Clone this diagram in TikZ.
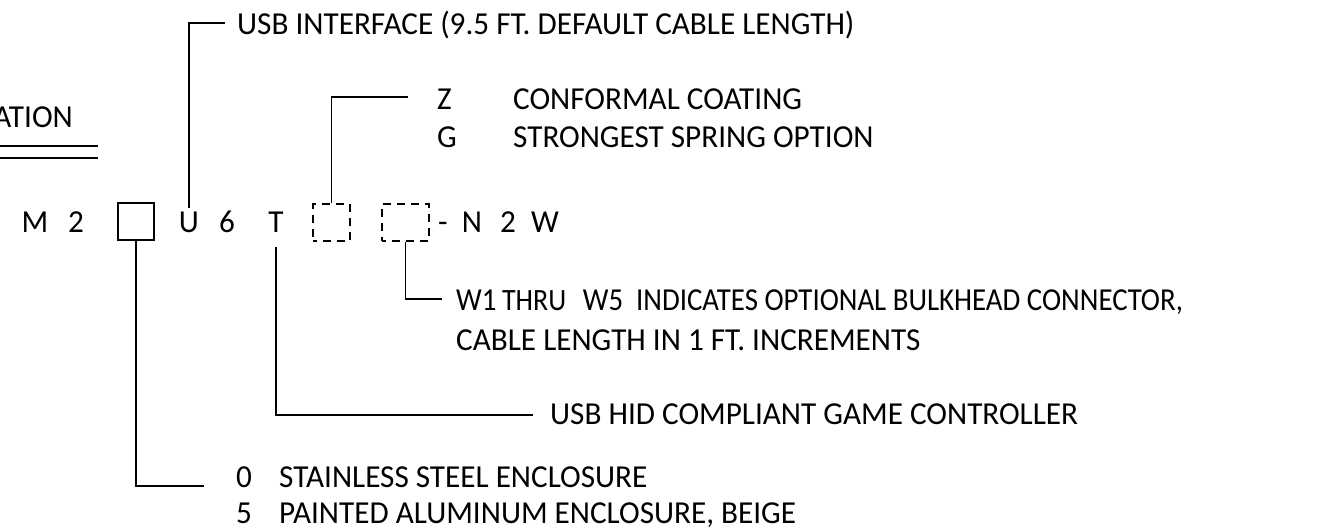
\documentclass[tikz,border=0pt]{standalone}
\usepackage{graphicx}
\usepackage{fontspec}
\setmainfont[FakeStretch=0.975]{Carlito}
\usetikzlibrary{positioning}

\begin{document}
\begin{tikzpicture}[x=1pt,y=-1pt]
		\tikzstyle{every node}+=[inner sep=0pt,font=\fontsize{32}{38}\selectfont]
		\tikzstyle{txt}=[anchor=base west]
		\tikzstyle{code}=[anchor=base]
		\tikzstyle{optbox}=[draw,line width=1.5pt,minimum height=37pt]
		\tikzstyle{lead}=[line width=1.5pt]
		\useasboundingbox (0,0) rectangle (1317,529);
		% heading, cut off at the left
		\node[anchor=base east] (head) at (73,128) {ATION};
		\draw[lead] (0,146) -- (98,146) (0,158) -- (98,158);
		% part number
		\node[code] (m)  at (35,233)  {M};
		\node[code] (m2) at (76,233)  {2};
		\node[optbox,minimum width=36pt] (encl) at (136,221.5) {};
		\node[code] (u)  at (189,233) {U};
		\node[code] (u6) at (227,233) {6};
		\node[code] (t)  at (276,233) {T};
		\node[optbox,dashed,dash pattern=on 8pt off 6pt,dash phase=4pt,minimum width=37pt] (opt) at (331.5,222.5) {};
		\node[optbox,dashed,dash pattern=on 8pt off 6pt,dash phase=4pt,minimum width=47pt] (cab) at (405.5,222.5) {};
		\node[code] (dash) at (443,233) {-};
		\node[code] (n)  at (472,233) {N};
		\node[code] (n2) at (508,233) {2};
		\node[code] (w)  at (545,233) {W};
		% descriptions
		\node[txt] (usb) at (237,35) {USB INTERFACE (9.5 FT. DEFAULT CABLE LENGTH)};
		\node[txt] (z) at (437,110) {Z};
		\node[txt] (zc) at (513,110) {CONFORMAL COATING};
		\node[txt] (g) at (437,148) {G};
		\node[txt] (gs) at (513,148) {STRONGEST SPRING OPTION};
		\node[txt] (w1) at (456,310) {\scalebox{0.925}[1]{W1\hspace{6pt}{\fontsize{31}{36}\selectfont THRU}\hspace{18pt}W5\hspace{14pt}INDICATES OPTIONAL BULKHEAD CONNECTOR,}};
		\node[txt] (cl) at (456,350) {CABLE LENGTH IN 1 FT. INCREMENTS};
		\node[txt] (hid) at (550,424) {USB HID COMPLIANT GAME CONTROLLER};
		\node[txt] (s0) at (236,487) {0};
		\node[txt] (ss) at (279,487) {STAINLESS STEEL ENCLOSURE};
		\node[txt] (s5) at (236,523) {5};
		\node[txt] (pa) at (279,523) {PAINTED ALUMINUM ENCLOSURE, BEIGE};
		% leader ends
		\coordinate (usbEnd) at (225,23);
		\coordinate (zEnd) at (408,97);
		\coordinate (wEnd) at (442,299);
		\coordinate (hidEnd) at (533,415);
		\coordinate (encEnd) at (204,486);
		\draw[lead] (u.north) ++(0,-4) |- (usbEnd)
			  (opt.north) |- (zEnd)
			  (cab.south) |- (wEnd)
			  (t.south) ++(0,14) |- (hidEnd)
			  (encl.south) |- (encEnd);
\end{tikzpicture}
\end{document}
